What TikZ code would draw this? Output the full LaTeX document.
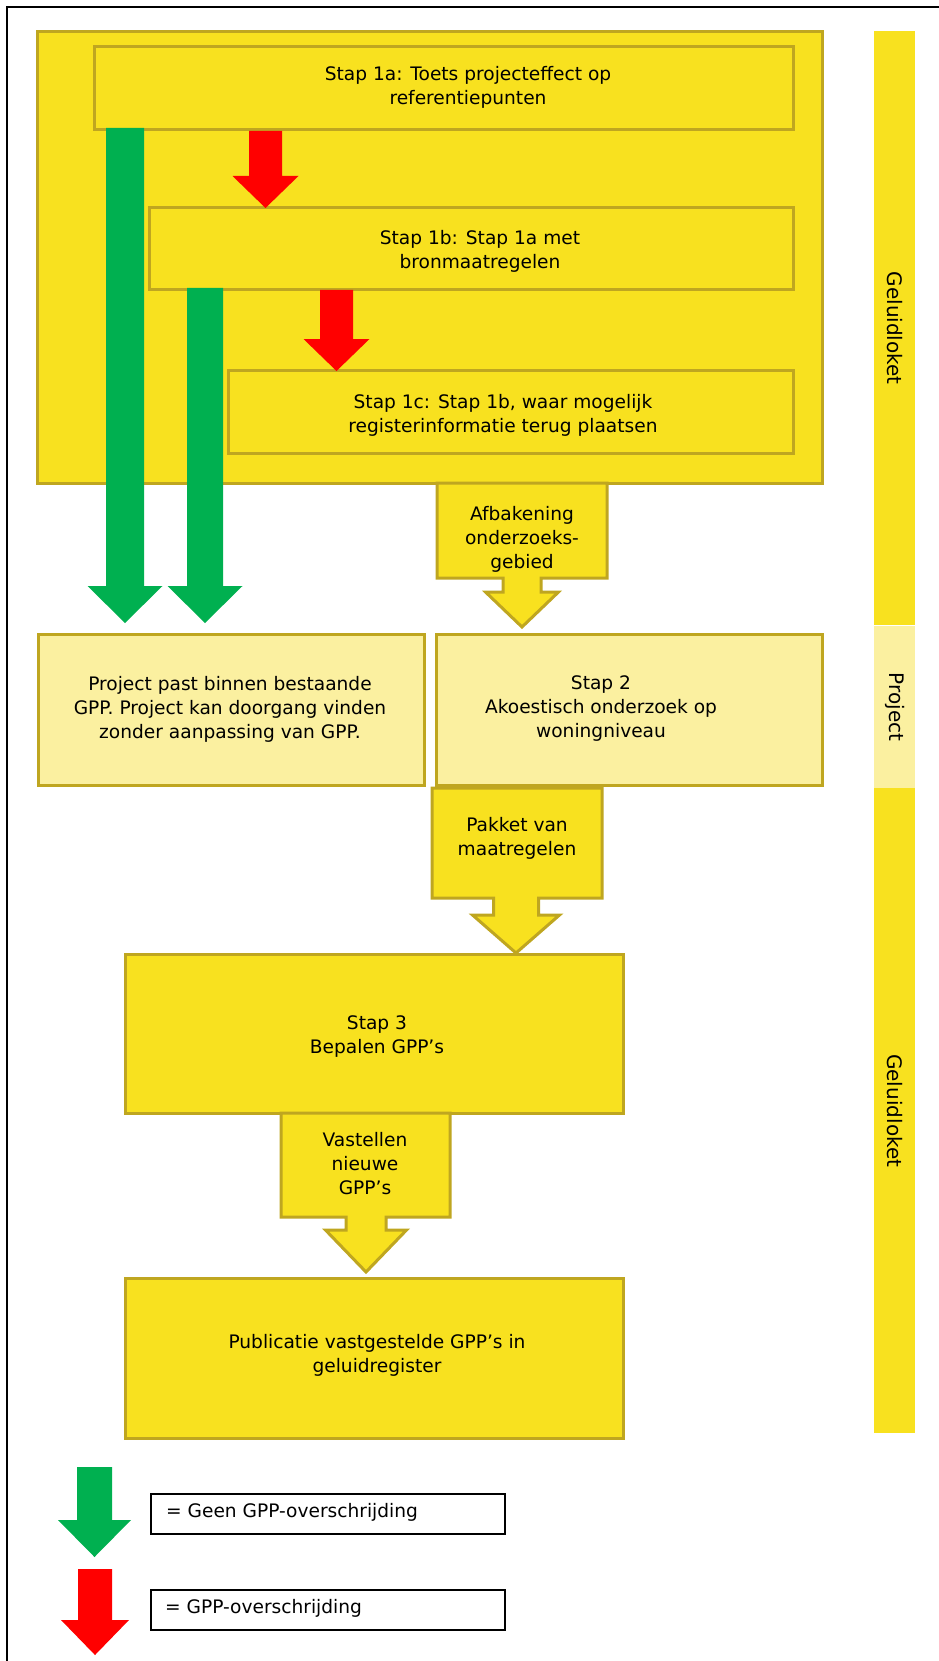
\documentclass[tikz,border=0pt]{standalone}
\usepackage{fontspec}
\setmainfont{DejaVu Sans}
\definecolor{ylw}{HTML}{F8E11F}
\definecolor{lylw}{HTML}{FBF0A0}
\definecolor{bord}{HTML}{BFA620}
\definecolor{grn}{HTML}{00B050}
\definecolor{rd}{HTML}{FF0000}
\tikzset{
  box/.style={draw=bord, line width=3pt, fill=ylw, inner sep=0pt, anchor=north west, rectangle},
  lbox/.style={box, fill=lylw},
  txt/.style={align=center, font=\fontsize{18.6}{24}\selectfont, inner sep=0pt},
  sidetxt/.style={font=\fontsize{20}{24}\selectfont, rotate=-90, inner sep=0pt},
  sidebar/.style={inner sep=0pt, anchor=north west, rectangle, minimum width=41pt},
  legbox/.style={draw=black, line width=2pt, fill=white, inner sep=0pt, anchor=north west, rectangle, minimum width=354pt, minimum height=40pt},
  callout/.style={draw=bord, fill=ylw, line width=3pt, line join=miter},
}
% #1 colour, #2 centre x, #3 shaft top, #4 head top, #5 tip, #6 shaft half width, #7 head half width
\newcommand\fatarr[7]{%
  \fill[#1] ({#2-#6},#3) -- ({#2+#6},#3) -- ({#2+#6},#4) -- ({#2+#7},#4) -- (#2,#5)
    -- ({#2-#7},#4) -- ({#2-#6},#4) -- cycle;}
% #1 left, #2 right, #3 top, #4 bottom, #5 cx, #6 stem half, #7 head top, #8 head half, #9 tip
\newcommand\callbox[9]{%
  \draw[callout] (#1,#3) -- (#2,#3) -- (#2,#4) -- ({#5+#6},#4) -- ({#5+#6},#7) -- ({#5+#8},#7)
    -- (#5,#9) -- ({#5-#8},#7) -- ({#5-#6},#7) -- ({#5-#6},#4) -- (#1,#4) -- cycle;}
\begin{document}
\begin{tikzpicture}[x=1pt, y=-1pt]
\useasboundingbox (0,0) rectangle (938,1661);
% frame
\draw[line width=2.5pt, line cap=rect] (7,1661) -- (7,7) -- (938,7);

% side bar
\node[sidebar, fill=ylw, minimum height=594pt] (sb1) at (874,31) {};
\node[sidebar, fill=lylw, minimum height=162pt] (sb2) at (874,626) {};
\node[sidebar, fill=ylw, minimum height=645pt] (sb3) at (874,788) {};
\node[sidetxt] (sbt1) at (sb1.center) {Geluidloket};
\node[sidetxt] (sbt2) at (sb2.center) {Project};
\node[sidetxt] (sbt3) at (sb3.center) {Geluidloket};

% container and step 1 boxes
\node[box, minimum width=785pt, minimum height=452pt] (cont) at (36,30) {};
\node[box, minimum width=699pt, minimum height=83pt] (s1a) at (93,45) {};
\node[box, minimum width=644pt, minimum height=82pt] (s1b) at (148,206) {};
\node[box, minimum width=565pt, minimum height=83pt] (s1c) at (227,369) {};
\node[txt] (t1a) at (468,87.5) {Stap 1a: Toets projecteffect op\\referentiepunten};
\node[txt] (t1b) at (480,251.5) {Stap 1b: Stap 1a met\\bronmaatregelen};
\node[txt] (t1c) at (503,415) {Stap 1c: Stap 1b, waar mogelijk\\registerinformatie terug plaatsen};

% red arrows
\fatarr{rd}{265.5}{131}{176}{208}{16.5}{33}
\fatarr{rd}{336.5}{290}{339}{371}{16.5}{33}
% green arrows
\fatarr{grn}{125}{128}{586}{623}{19}{37.5}
\fatarr{grn}{205}{288}{586}{623}{18}{37.5}

% row 2
\node[lbox, minimum width=386pt, minimum height=151pt] (proj) at (37,633) {};
\node[lbox, minimum width=386pt, minimum height=151pt] (s2) at (435,633) {};
\node[txt] (tproj) at (230,709) {Project past binnen bestaande\\GPP. Project kan doorgang vinden\\zonder aanpassing van GPP.};
\node[txt] (ts2) at (601,709) {Stap 2\\Akoestisch onderzoek op\\woningniveau};

% Afbakening callout
\callbox{437}{607}{483}{578}{522}{19}{592}{36.5}{627}
\node[txt] (tafb) at (522,539) {Afbakening\\onderzoeks-\\gebied};

% Stap 3
\node[box, minimum width=498pt, minimum height=159pt] (s3) at (124,953) {};
\node[txt] (ts3) at (377,1036.5) {Stap 3\\Bepalen GPP’s};

% Pakket callout
\callbox{432}{602}{788}{898}{516}{22.5}{915}{43.5}{953}
\node[txt] (tpak) at (517,838.5) {Pakket van\\maatregelen};

% Publicatie
\node[box, minimum width=498pt, minimum height=160pt] (pub) at (124,1277) {};
\node[txt] (tpub) at (377,1355) {Publicatie vastgestelde GPP’s in\\geluidregister};

% Vastellen callout
\callbox{281}{450}{1113}{1217}{366}{20}{1230}{40.5}{1272}
\node[txt] (tvast) at (365,1163.5) {Vastellen\\nieuwe\\GPP’s};

% legend
\fatarr{grn}{94.5}{1467}{1520}{1557}{17.5}{36.5}
\fatarr{rd}{95}{1569}{1620}{1655}{17}{34}
\node[legbox] (lg1) at (150,1493) {};
\node[legbox] (lg2) at (150,1589) {};
\node[txt, anchor=west] (tlg1) at (166,1512) {= Geen GPP-overschrijding};
\node[txt, anchor=west] (tlg2) at (165,1608) {= GPP-overschrijding};
\end{tikzpicture}
\end{document}
